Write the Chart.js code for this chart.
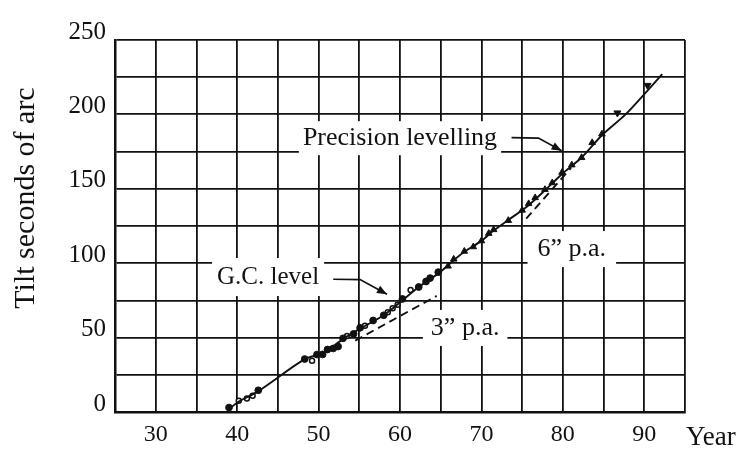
<!DOCTYPE html>
<html><head><meta charset="utf-8">
<script src="https://cdn.jsdelivr.net/npm/chart.js@4/dist/chart.umd.min.js"></script>
<style>html,body{margin:0;padding:0;background:#fff}#wrap{width:746px;height:457px}</style>
</head><body><div id="wrap"><canvas id="c" width="746" height="457"></canvas></div>
<script>
// ---- data ----
const xTickLabels = ['30','40','50','60','70','80','90'];
const yTickLabels = ['0','50','100','150','200','250'];

const curveYears = [39, 40.2, 42.6, 48.3, 50.5, 53.0, 55.1, 58.0, 60.3, 62.3, 64.7, 66.6, 68.0, 70.0, 71.5, 73.3, 75.8, 77.8, 79.9, 82.3, 84.8, 87.7, 90.4, 92.2];
const curveTilt  = [2, 7, 14, 35.5, 39.5, 49, 56, 65, 75, 84, 93, 102, 108, 115, 122, 129, 139, 149, 160, 171, 186, 200, 216, 227];

const gcYears = [39.0, 42.6, 48.3, 49.8, 50.5, 51.1, 51.8, 52.4, 53.0, 54.3, 55.1, 56.7, 58.0, 60.3, 62.3, 63.2, 63.7, 64.7];
const gcTilt  = [3, 14.6, 35.6, 38.6, 38.7, 42, 42.7, 44, 49.5, 52.5, 56.6, 61.5, 65, 76, 84, 87.7, 90, 94];

const earlyYears = [40.2, 41.2, 41.9, 49.2, 53.5, 55.7, 58.5, 59.1, 59.7, 61.3];
const earlyTilt  = [7.6, 9, 11, 34.5, 51, 58, 67, 69.8, 72, 82];

const levYears = [65.9, 66.6, 67.9, 69.0, 70.0, 70.9, 71.5, 73.3, 75.0, 75.8, 76.6, 77.8, 78.7, 79.9, 81.1, 82.3, 83.6, 84.8];
const levTilt  = [98, 102.7, 108, 111, 115, 120, 122.5, 128.7, 135.6, 140, 144, 149.5, 154, 161, 166, 171, 181, 186.8];

const outlierYears = [86.7, 90.4];
const outlierTilt  = [201, 219.5];

const rate3Years = [54.5, 64.5];
const rate3Tilt  = [48, 78];
const rate6Years = [75.5, 81.0];
const rate6Tilt  = [130, 164];

const labelTexts = ['Precision levelling', 'G.C. level', '6\u201D p.a.', '3\u201D p.a.'];
const axisTitles = ['Tilt seconds of arc', 'Year'];

// ---- build ----
const pts = (xs, ys) => xs.map((v, i) => ({x: v, y: ys[i]}));
const INK = '#111';
const SERIF = '"Liberation Serif", "DejaVu Serif", serif';
Chart.defaults.font.family = SERIF;
Chart.defaults.color = INK;

const labelDefs = [
  {text: labelTexts[0], x: 60.0, y: 184, font: 26, padX: 4, h: 34, leader: [[73.7,184.4],[77.0,184.1],[79.85,175.5]]},
  {text: labelTexts[1], x: 43.8, y: 90.7, font: 25, padX: 5, h: 38, leader: [[51.8,89.2],[55.1,89.0],[58.4,79.2]]},
  {text: labelTexts[2], x: 81.1, y: 109.5, font: 26, padX: 10, h: 36, leader: null},
  {text: labelTexts[3], x: 68.0, y: 56.5, font: 26, padX: 8, h: 36, leader: null}
];

const annot = {
  id: 'annot',
  beforeDatasetsDraw(chart) {
    const {ctx, scales: {x, y}} = chart;
    ctx.save();
    labelDefs.forEach(L => {
      const px = x.getPixelForValue(L.x), py = y.getPixelForValue(L.y);
      ctx.font = L.font + 'px ' + SERIF;
      const w = ctx.measureText(L.text).width;
      ctx.fillStyle = '#fff';
      ctx.fillRect(px - w / 2 - L.padX, py - L.h / 2, w + 2 * L.padX, L.h);
      ctx.fillStyle = INK;
      ctx.textAlign = 'center';
      ctx.textBaseline = 'middle';
      ctx.fillText(L.text, px, py);
      if (L.leader) {
        const P = L.leader.map(p => [x.getPixelForValue(p[0]), y.getPixelForValue(p[1])]);
        ctx.strokeStyle = INK; ctx.lineWidth = 1.7;
        ctx.beginPath(); ctx.moveTo(P[0][0], P[0][1]);
        for (let i = 1; i < P.length; i++) ctx.lineTo(P[i][0], P[i][1]);
        ctx.stroke();
        const a = P[P.length - 2], b = P[P.length - 1];
        const ang = Math.atan2(b[1] - a[1], b[0] - a[0]);
        const len = 10, hw = 4;
        ctx.beginPath();
        ctx.moveTo(b[0], b[1]);
        ctx.lineTo(b[0] - len * Math.cos(ang) + hw * Math.sin(ang), b[1] - len * Math.sin(ang) - hw * Math.cos(ang));
        ctx.lineTo(b[0] - len * Math.cos(ang) - hw * Math.sin(ang), b[1] - len * Math.sin(ang) + hw * Math.cos(ang));
        ctx.closePath(); ctx.fillStyle = INK; ctx.fill();
      }
    });
    ctx.restore();
  },
  afterDraw(chart) {
    const {ctx, chartArea: a} = chart;
    ctx.save();
    ctx.fillStyle = INK;
    ctx.font = '30px ' + SERIF;
    ctx.textAlign = 'center'; ctx.textBaseline = 'middle';
    ctx.translate(26, 198); ctx.rotate(-Math.PI / 2);
    ctx.fillText(axisTitles[0], 0, 0);
    ctx.restore();
    ctx.save();
    ctx.fillStyle = INK;
    ctx.font = '27px ' + SERIF;
    ctx.textAlign = 'left'; ctx.textBaseline = 'middle';
    ctx.fillText(axisTitles[1], a.right + 1, 438);
    ctx.restore();
  }
};

new Chart(document.getElementById('c'), {
  type: 'scatter',
  data: {
    datasets: [
      {label: 'curve', data: pts(curveYears, curveTilt), showLine: true, borderColor: INK, borderWidth: 1.9, pointRadius: 0, tension: 0.3},
      {label: '3 p.a.', data: pts(rate3Years, rate3Tilt), showLine: true, borderColor: INK, borderWidth: 1.9, borderDash: [8, 5], pointRadius: 0},
      {label: '6 p.a.', data: pts(rate6Years, rate6Tilt), showLine: true, borderColor: INK, borderWidth: 1.9, borderDash: [8, 5], pointRadius: 0},
      {label: 'G.C. level', data: pts(gcYears, gcTilt), pointStyle: 'circle', pointRadius: 3.4, backgroundColor: INK, borderColor: INK, borderWidth: 1},
      {label: 'early levelling', data: pts(earlyYears, earlyTilt), pointStyle: 'circle', pointRadius: 2.5, backgroundColor: '#fff', borderColor: INK, borderWidth: 1.5},
      {label: 'Precision levelling', data: pts(levYears, levTilt), pointStyle: 'triangle', pointRadius: 3.8, backgroundColor: INK, borderColor: INK, borderWidth: 1},
      {label: 'outliers', data: pts(outlierYears, outlierTilt), pointStyle: 'triangle', rotation: 180, pointRadius: 4, backgroundColor: INK, borderColor: INK, borderWidth: 1}
    ]
  },
  options: {
    responsive: false,
    animation: false,
    devicePixelRatio: 1,
    layout: {padding: {top: 40, right: 61, bottom: 0, left: 0}},
    plugins: {legend: {display: false}, tooltip: {enabled: false}},
    scales: {
      x: {
        type: 'linear', min: 25, max: 95,
        afterFit: s => { s.height = 45; },
        border: {display: true, color: INK, width: 2.5},
        grid: {color: INK, lineWidth: 1.8, drawTicks: false},
        ticks: {stepSize: 5, autoSkip: false, maxRotation: 0, padding: 8, color: INK,
                font: {size: 24, family: SERIF},
                callback: v => xTickLabels.includes(String(v)) ? String(v) : ''}
      },
      y: {
        type: 'linear', min: 0, max: 250,
        afterFit: s => { s.width = 115; },
        border: {display: true, color: INK, width: 2.5},
        grid: {color: INK, lineWidth: 1.8, drawTicks: false},
        ticks: {stepSize: 25, autoSkip: false, padding: 9, labelOffset: -8, color: INK,
                font: {size: 25, family: SERIF},
                callback: v => yTickLabels.includes(String(v)) ? String(v) : ''}
      }
    }
  },
  plugins: [annot]
});
</script>
</body></html>
